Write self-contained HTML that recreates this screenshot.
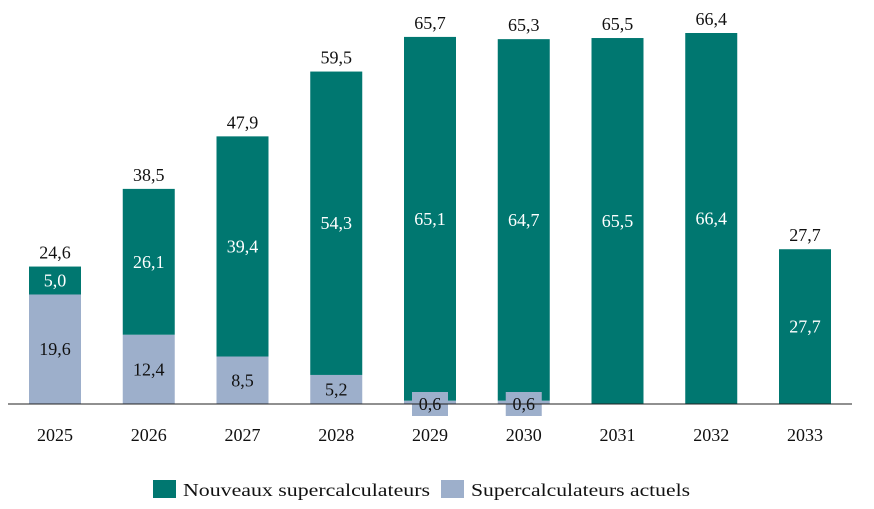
<!DOCTYPE html>
<html><head><meta charset="utf-8"><style>
body{margin:0;background:#fff}
svg{display:block;font-family:"Liberation Serif",serif}
</style></head><body>
<svg id="chart" width="874" height="509"></svg>
<script>
const years=["2025","2026","2027","2028","2029","2030","2031","2032","2033"];
const actuels=[19.6,12.4,8.5,5.2,0.6,0.6,0,0,0];
const nouveaux=[5.0,26.1,39.4,54.3,65.1,64.7,65.5,66.4,27.7];
const totals=["24,6","38,5","47,9","59,5","65,7","65,3","65,5","66,4","27,7"];
const NS="http://www.w3.org/2000/svg";
const svg=document.getElementById('chart');
const base=404, k=371/66.4;
const y=v=>base-v*k;
const xc=i=>55+93.75*i;
const bw=52;
const fmt=v=>v.toFixed(1).replace('.',',');
function mk(t,a,txt){const e=document.createElementNS(NS,t);for(const n in a)e.setAttribute(n,a[n]);if(txt!==undefined)e.textContent=txt;svg.appendChild(e);return e;}
years.forEach((yr,i)=>{
 const a=actuels[i],n=nouveaux[i],x=xc(i)-bw/2;
 if(a>0){const r=mk('rect',{x:x,y:y(a),width:bw,height:a*k,fill:'#9dafcb'});
 
 }
 const g=mk('rect',{x:x,y:y(a+n),width:bw,height:n*k,fill:'#007770'});
 
 
 const gl=mk('text',{x:xc(i),y:y(a+n/2)+6,'text-anchor':'middle','font-size':18,fill:'#fff'},fmt(n));
 
 
 if(a>0){
  if(a*k<20){
   const bg=mk('rect',{x:xc(i)-18,y:base-12,width:36,height:24,fill:'#9dafcb'});
   
   
   const t=mk('text',{x:xc(i),y:base+6,'text-anchor':'middle','font-size':18,fill:'#111'},fmt(a));
   
   
  }else{
   const t=mk('text',{x:xc(i),y:y(a/2)+6,'text-anchor':'middle','font-size':18,fill:'#111'},fmt(a));
   
   
  }
 }
 const tt=mk('text',{x:xc(i),y:y(a+n)-8,'text-anchor':'middle','font-size':18,fill:'#111'},totals[i]);
 
 
 const xl=mk('text',{x:xc(i),y:441,'text-anchor':'middle','font-size':18,fill:'#111'},yr);
 
 
});
const ax=mk('line',{x1:8,x2:852,y1:base,y2:base,stroke:'#222','stroke-width':1});


const l1=mk('rect',{x:153,y:480,width:23,height:18,fill:'#007770'});


const t1=mk('text',{x:183,y:496,'font-size':18,fill:'#111',textLength:247,lengthAdjust:'spacingAndGlyphs'},'Nouveaux supercalculateurs');


const l2=mk('rect',{x:441,y:480,width:23,height:18,fill:'#9dafcb'});


const t2=mk('text',{x:471,y:496,'font-size':18,fill:'#111',textLength:219,lengthAdjust:'spacingAndGlyphs'},'Supercalculateurs actuels');


</script>
</body></html>
